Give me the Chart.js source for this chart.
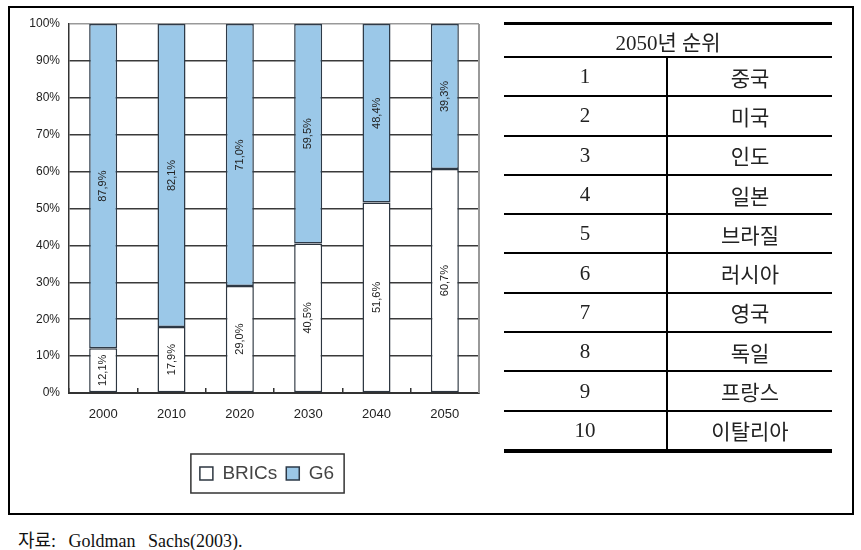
<!DOCTYPE html>
<html>
<head>
<meta charset="utf-8">
<script src="https://cdn.jsdelivr.net/npm/chart.js@4"></script>
<style>
  body { margin: 0; background: #fff; width: 861px; height: 550px; position: relative; overflow: hidden; }
  #frame { position: absolute; left: 8px; top: 6px; width: 846px; height: 509px; border: 2px solid #000; box-sizing: border-box; }
  #chartBox { position: absolute; left: 0; top: 0; width: 534px; height: 505px; }
  #rankTable { position: absolute; left: 504px; top: 22px; width: 328px; border-collapse: collapse;
    border-top: 3px solid #000; border-bottom: 4px solid #000;
    font-family: "Liberation Serif", "Noto Sans CJK KR", serif; font-size: 21px; color: #222; }
  #rankTable td { padding: 0; height: 37.3px; text-align: center; border-top: 2px solid #000; }
  #rankTable tr.head td { height: 31px; border-top: none; }
  #rankTable td.num { width: 162px; border-right: 2px solid #000; }
  #source { position: absolute; left: 18px; top: 526px; font-family: "Liberation Serif", "Noto Sans CJK KR", serif;
    font-size: 18px; color: #111; word-spacing: 8px; }
</style>
</head>
<body>
<div id="frame"></div>
<div id="chartBox"><canvas id="shareChart" width="534" height="505"></canvas></div>
<table id="rankTable"><tbody id="rankBody"></tbody></table>
<div id="source">자료: Goldman Sachs(2003).</div>
<script>
// data
const years = ['2000', '2010', '2020', '2030', '2040', '2050'];
const bricsShare = [12.1, 17.9, 29.0, 40.5, 51.6, 60.7];
const g6Share = [87.9, 82.1, 71.0, 59.5, 48.4, 39.3];
const rankTitle = '2050년 순위';
const ranks = [1, 2, 3, 4, 5, 6, 7, 8, 9, 10];
const countries = ['중국', '미국', '인도', '일본', '브라질', '러시아', '영국', '독일', '프랑스', '이탈리아'];

// ranking table
const body = document.getElementById('rankBody');
body.innerHTML = '<tr class="head"><td colspan="2">' + rankTitle + '</td></tr>' +
    ranks.map((r, i) => '<tr><td class="num">' + r + '</td><td>' + countries[i] + '</td></tr>').join('');

// labels inside the bars, rotated
const barLabels = {
    id: 'barLabels',
    afterDatasetsDraw(chart) {
        const ctx = chart.ctx;
        ctx.save();
        ctx.fillStyle = '#222';
        ctx.font = '11px "Liberation Sans", Arial, sans-serif';
        ctx.textAlign = 'center';
        ctx.textBaseline = 'middle';
        chart.data.datasets.forEach((ds, di) => {
            chart.getDatasetMeta(di).data.forEach((bar, i) => {
                const txt = ds.data[i].toFixed(1).replace('.', ',') + '%';
                ctx.save();
                ctx.translate(bar.x, (bar.y + bar.base) / 2);
                ctx.rotate(-Math.PI / 2);
                ctx.fillText(txt, 0, 0);
                ctx.restore();
            });
        });
        ctx.restore();
    }
};

// grey frame on the right of the plot + box around legend
const frameAndLegendBox = {
    id: 'frameAndLegendBox',
    beforeDatasetsDraw(chart) {
        const a = chart.chartArea, ctx = chart.ctx;
        ctx.save();
        ctx.strokeStyle = '#999';
        ctx.lineWidth = 2;
        ctx.beginPath();
        ctx.moveTo(a.right, a.top);
        ctx.lineTo(a.right, a.bottom);
        ctx.stroke();
        ctx.restore();
    },
    afterDraw(chart) {
        const boxes = chart.legend.legendHitBoxes;
        if (!boxes || !boxes.length) return;
        const l = Math.min(...boxes.map(b => b.left)) - 9;
        const r = Math.max(...boxes.map(b => b.left + b.width)) + 10;
        const t = Math.min(...boxes.map(b => b.top)) - 10;
        const btm = Math.max(...boxes.map(b => b.top + b.height)) + 10;
        const ctx = chart.ctx;
        ctx.save();
        ctx.strokeStyle = '#333';
        ctx.lineWidth = 1.5;
        ctx.strokeRect(l, t, r - l, btm - t);
        ctx.restore();
    }
};

new Chart(document.getElementById('shareChart'), {
    type: 'bar',
    data: {
        labels: years,
        datasets: [{
            label: 'BRICs',
            data: bricsShare,
            backgroundColor: '#ffffff',
            borderColor: '#2d3640',
            borderWidth: 1.5,
            borderSkipped: false
        }, {
            label: 'G6',
            data: g6Share,
            backgroundColor: '#9bc8e8',
            borderColor: '#2d3a48',
            borderWidth: 1.5,
            borderSkipped: false
        }]
    },
    options: {
        responsive: false,
        animation: false,
        devicePixelRatio: 1,
        categoryPercentage: 1,
        barPercentage: 0.41,
        layout: { padding: { left: 0, top: 24, right: 0, bottom: 12 } },
        plugins: {
            legend: {
                position: 'bottom',
                labels: {
                    boxWidth: 13,
                    boxHeight: 13,
                    padding: 9,
                    color: '#444',
                    font: { family: '"Liberation Sans", Arial, sans-serif', size: 19 }
                }
            },
            tooltip: { enabled: false }
        },
        scales: {
            x: {
                stacked: true,
                afterFit: s => { s.height = 62; },
                grid: { offset: true, drawOnChartArea: false, drawTicks: true, tickLength: -5, color: '#333', lineWidth: 1.5 },
                border: { display: true, color: '#333', width: 2 },
                ticks: { padding: 19, color: '#222', font: { family: '"Liberation Sans", Arial, sans-serif', size: 13 } }
            },
            y: {
                stacked: true,
                min: 0,
                max: 100,
                afterFit: s => { s.width = 69; },
                grid: {
                    drawTicks: false,
                    color: c => c.tick && c.tick.value === 100 ? '#999' : '#3a3a3a',
                    lineWidth: 1.5
                },
                border: { display: true, color: '#333', width: 1.5 },
                ticks: {
                    stepSize: 10,
                    padding: 9,
                    color: '#222',
                    font: { family: '"Liberation Sans", Arial, sans-serif', size: 12 },
                    callback: v => v + '%'
                }
            },
            // empty spacer on the right so the legend centres like the original
            spacer: {
                type: 'linear',
                position: 'right',
                afterFit: s => { s.width = 55; },
                grid: { display: false },
                border: { display: false },
                ticks: { display: false }
            }
        }
    },
    plugins: [barLabels, frameAndLegendBox]
});
</script>
</body>
</html>
